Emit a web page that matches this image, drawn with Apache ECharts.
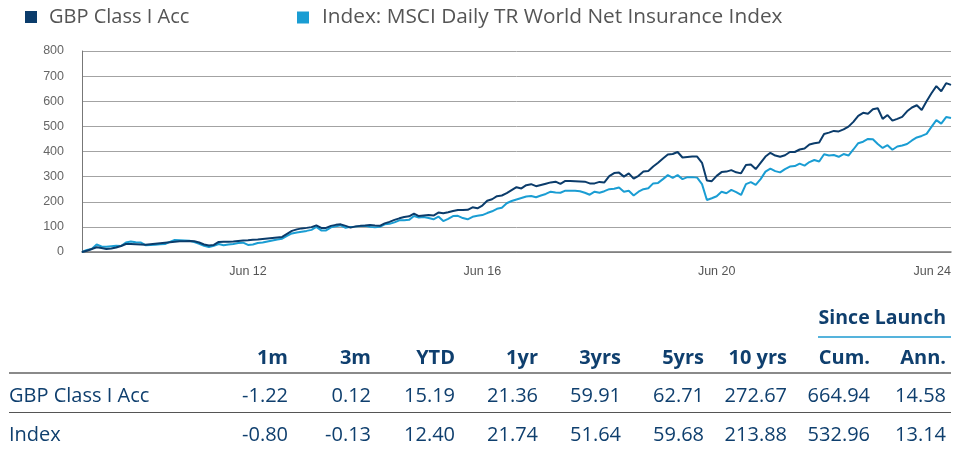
<!DOCTYPE html>
<html><head><meta charset="utf-8">
<script src="https://cdn.jsdelivr.net/npm/echarts@6/dist/echarts.min.js"></script>
<style>html,body{margin:0;padding:0;background:#fff;}#c{width:965px;height:449px;}</style>
</head><body><div id="c"></div>
<script>
// ---- data ----
const seriesNames = ['GBP Class I Acc', 'Index: MSCI Daily TR World Net Insurance Index'];
const startYear = 2009, startMonth = 8; // first month of the monthly series (Aug 2009)
const fundValues = [0,5,12,19,16,12,14,18,24,32,32,31,30,29,31,33,35,37,39,41,43,43,44,43,38,30,26,28,40,41,41,42,44,46,47,49,50,52,54,56,58,60,72,84,90,94,96,99,106,96,96,104,108,110,104,97,102,104,105,107,105,104,114,120,128,134,139,142,153,143,145,147,145,157,154,158,163,167,167,168,178,174,185,204,210,222,225,234,246,258,253,266,270,262,267,272,277,280,271,283,283,282,281,280,273,273,279,277,302,314,316,300,313,292,303,320,322,340,355,372,388,390,398,376,378,380,380,355,285,282,303,318,320,326,317,313,346,348,330,355,380,395,384,379,385,398,398,408,412,428,433,436,470,475,482,480,488,499,518,542,554,550,568,572,530,545,523,530,538,560,575,584,565,600,632,660,640,672,664.94];
const indexValues = [0,8,12,30,22,21,23,25,24,38,42,39,38,27,28,29,31,32,40,48,47,46,45,40,33,25,20,25,32,27,30,32,36,37,28,30,36,38,42,46,50,53,64,74,78,81,84,88,100,86,86,98,102,106,96,100,101,103,104,100,98,100,110,112,118,126,126,128,143,137,139,135,130,141,123,132,143,144,135,130,140,144,147,155,162,172,176,194,203,209,215,221,223,218,225,231,240,237,236,244,244,244,242,236,228,240,236,242,250,252,257,240,244,225,240,250,254,273,275,290,306,295,306,290,298,298,296,270,207,214,222,240,234,247,238,227,270,278,267,290,320,332,322,317,330,340,342,352,344,358,366,360,389,384,386,379,390,384,408,433,439,450,449,430,414,425,407,420,424,430,444,456,462,470,498,525,511,537,532.96];
const tickLabels = ['Jun 12', 'Jun 16', 'Jun 20', 'Jun 24'];
const tableHeaders = ['1m','3m','YTD','1yr','3yrs','5yrs','10 yrs','Cum.','Ann.'];
const groupHeader = 'Since Launch';
const rowLabels = ['GBP Class I Acc', 'Index'];
const fundRow = ['-1.22','0.12','15.19','21.36','59.91','62.71','272.67','664.94','14.58'];
const indexRow = ['-0.80','-0.13','12.40','21.74','51.64','59.68','213.88','532.96','13.14'];

// ---- build ----
const monAbbr = ['Jan','Feb','Mar','Apr','May','Jun','Jul','Aug','Sep','Oct','Nov','Dec'];
const categories = fundValues.map((_, i) => {
  const m = startMonth - 1 + i;
  const y = startYear + Math.floor(m / 12);
  return monAbbr[m % 12] + ' ' + String(y % 100).padStart(2, '0');
});
const DARK = '#0b3c6b', LIGHT = '#1a9dd3', NAVY = '#0f3f6e';
const colRight = [288, 371, 455, 538, 621, 704, 787, 870, 946];
const FONT = '"Open Sans", sans-serif';

const graphics = [];
graphics.push({type:'text', style:{text:groupHeader, x:946, y:318, align:'right', verticalAlign:'middle', font:'bold 19.5px ' + FONT, fill:NAVY}});
graphics.push({type:'rect', shape:{x:818, y:336, width:133, height:2}, style:{fill:'#55b3dc'}});
tableHeaders.forEach((h, i) => graphics.push({type:'text', style:{text:h, x:colRight[i], y:358, align:'right', verticalAlign:'middle', font:'bold 20px ' + FONT, fill:NAVY}}));
graphics.push({type:'rect', shape:{x:9, y:372, width:942, height:2}, style:{fill:'#8a8a8a'}});
graphics.push({type:'rect', shape:{x:9, y:412, width:942, height:1}, style:{fill:'#555'}});
[fundRow, indexRow].forEach((row, r) => {
  const y = r === 0 ? 396 : 435;
  graphics.push({type:'text', style:{text:rowLabels[r], x:9, y:y, align:'left', verticalAlign:'middle', font:'20px ' + FONT, fill:NAVY}});
  row.forEach((v, i) => graphics.push({type:'text', style:{text:v, x:colRight[i], y:y, align:'right', verticalAlign:'middle', font:'20px ' + FONT, fill:NAVY}}));
});

const chart = echarts.init(document.getElementById('c'), null, {renderer:'canvas'});
const legendText = {fontFamily:FONT, fontSize:20, color:'#555', padding:[0,0,0,7]};
chart.setOption({
  animation: false,
  color: [DARK, LIGHT],
  legend: [
    {left: 25, top: 7, padding:0, icon:'rect', itemWidth:12, itemHeight:12, data:[seriesNames[0]], textStyle:legendText},
    {left: 297, top: 7, padding:0, icon:'rect', itemWidth:12, itemHeight:12, data:[seriesNames[1]], textStyle:Object.assign({}, legendText, {fontSize:20.8, padding:[0,0,0,8]})}
  ],
  grid: {left: 82, right: 14, top: 51, bottom: 197, containLabel: false},
  xAxis: {
    type:'category', data: categories, boundaryGap:false,
    axisLine:{lineStyle:{color:'#777', width:1.5}},
    axisTick:{show:false},
    axisLabel:{
      interval: (idx, val) => tickLabels.indexOf(val) >= 0,
      color:'#555', fontFamily:'"Liberation Sans", Arial, sans-serif', fontSize:12.5, margin:13,
      alignMaxLabel:'right'
    }
  },
  yAxis: {
    type:'value', min:0, max:800, interval:100,
    axisLine:{show:true, lineStyle:{color:'#777'}},
    axisTick:{show:false},
    splitLine:{lineStyle:{color:'#a3a3a3', width:1}},
    axisLabel:{color:'#666', fontFamily:'"Liberation Sans", Arial, sans-serif', fontSize:12.5, margin:18}
  },
  series: [
    {name:seriesNames[0], type:'line', data:fundValues, symbol:'none', lineStyle:{width:2, color:DARK}, z:3},
    {name:seriesNames[1], type:'line', data:indexValues, symbol:'none', lineStyle:{width:2, color:LIGHT}, z:2}
  ],
  graphic: graphics
});
</script></body></html>
